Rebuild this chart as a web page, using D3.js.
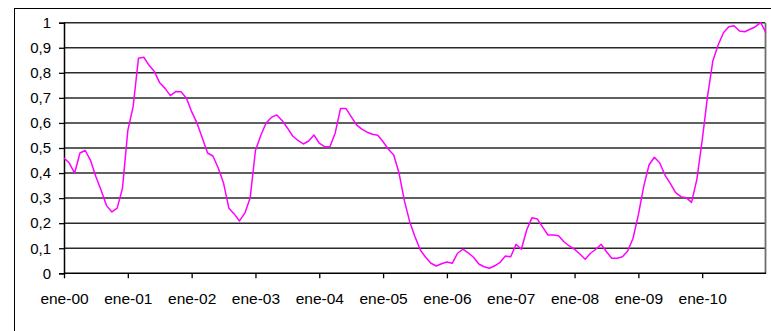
<!DOCTYPE html>
<html>
<head>
<meta charset="utf-8">
<script src="https://cdn.jsdelivr.net/npm/d3@7"></script>
<style>
  html, body { margin: 0; padding: 0; background: #fff; }
  svg { display: block; }
  text { font-family: "Liberation Sans", Arial, Helvetica, sans-serif; fill: #000; }
</style>
</head>
<body>
<svg id="chart" width="771" height="331"></svg>
<script>
// Monthly index values, ene-2000 .. ene-2011
const values = [
  0.46, 0.44, 0.40, 0.48, 0.49, 0.45, 0.385, 0.33, 0.27, 0.245, 0.26, 0.34,
  0.57, 0.665, 0.858, 0.862, 0.83, 0.805, 0.76, 0.738, 0.709, 0.725, 0.724, 0.70,
  0.645, 0.60, 0.54, 0.48, 0.468, 0.42, 0.36, 0.26, 0.237, 0.209, 0.24, 0.30,
  0.49, 0.55, 0.60, 0.622, 0.632, 0.61, 0.58, 0.548, 0.53, 0.516, 0.528, 0.552,
  0.519, 0.505, 0.505, 0.56, 0.658, 0.658, 0.625, 0.592, 0.575, 0.563, 0.555, 0.551,
  0.525, 0.495, 0.472, 0.40, 0.29, 0.206, 0.146, 0.093, 0.064, 0.04, 0.029, 0.038,
  0.045, 0.04, 0.08, 0.096, 0.082, 0.064, 0.037, 0.026, 0.02, 0.03, 0.044, 0.069,
  0.066, 0.116, 0.096, 0.173, 0.222, 0.217, 0.184, 0.153, 0.153, 0.15, 0.126, 0.109,
  0.096, 0.077, 0.056, 0.08, 0.096, 0.116, 0.086, 0.06, 0.06, 0.066, 0.089, 0.14,
  0.233, 0.346, 0.432, 0.463, 0.441, 0.392, 0.359, 0.322, 0.306, 0.302, 0.283, 0.375,
  0.53, 0.705, 0.847, 0.911, 0.96, 0.984, 0.988, 0.967, 0.964, 0.974, 0.984, 1.0,
  0.96
];

// Year tick labels (one per January)
const yearLabels = ["ene-00", "ene-01", "ene-02", "ene-03", "ene-04", "ene-05",
                    "ene-06", "ene-07", "ene-08", "ene-09", "ene-10"];
const yearTickMonths = yearLabels.map((_, k) => k * 12);

const yTicks = [0, 0.1, 0.2, 0.3, 0.4, 0.5, 0.6, 0.7, 0.8, 0.9, 1];
const fmtComma = v => String(+v.toFixed(1)).replace(".", ",");

const svg = d3.select("#chart");

const plot = { left: 64, right: 765, top: 22.7, bottom: 273.3 };

const x = d3.scaleLinear().domain([0, values.length - 1]).range([plot.left, 766]);
const y = d3.scaleLinear().domain([0, 1]).range([plot.bottom, plot.top]);

// Outer chart frame (extends past the visible edges)
svg.append("rect")
  .attr("x", 14.5).attr("y", 8.5)
  .attr("width", 800).attr("height", 400)
  .attr("fill", "none").attr("stroke", "#000").attr("stroke-width", 1);

// Horizontal gridlines
svg.append("g")
  .selectAll("line")
  .data(yTicks.filter(v => v > 0))
  .join("line")
  .attr("x1", plot.left).attr("x2", plot.right)
  .attr("y1", d => y(d)).attr("y2", d => y(d))
  .attr("stroke", "#2a2a2a").attr("stroke-width", 1.5);

// Right border of plot area
svg.append("line")
  .attr("x1", plot.right + 0.5).attr("x2", plot.right + 0.5)
  .attr("y1", plot.top).attr("y2", plot.bottom)
  .attr("stroke", "#6e6e6e").attr("stroke-width", 1.8);

// Y axis
const yAxis = d3.axisLeft(y)
  .tickValues(yTicks)
  .tickSize(5)
  .tickPadding(8)
  .tickFormat(fmtComma);

const gy = svg.append("g")
  .attr("transform", `translate(${plot.left},0)`)
  .call(yAxis);
gy.select(".domain").attr("stroke", "#000").attr("stroke-width", 1.5);
gy.selectAll(".tick line").attr("stroke", "#000").attr("stroke-width", 1.3);
gy.selectAll(".tick text")
  .attr("font-size", 15)
  .attr("font-family", "'Liberation Sans', Arial, sans-serif")
  .attr("fill", "#000");

// X axis
const xAxis = d3.axisBottom(x)
  .tickValues(yearTickMonths)
  .tickSize(5)
  .tickPadding(15)
  .tickSizeOuter(0)
  .tickFormat((d, k) => yearLabels[k]);

const gx = svg.append("g")
  .attr("transform", `translate(0,${plot.bottom})`)
  .call(xAxis);
gx.select(".domain").attr("stroke", "#000").attr("stroke-width", 1.5)
  .attr("d", `M${plot.left},0H${plot.right + 1}`);
gx.selectAll(".tick line").attr("stroke", "#000").attr("stroke-width", 1.3);
gx.selectAll(".tick text")
  .attr("font-size", 15.5)
  .attr("font-family", "'Liberation Sans', Arial, sans-serif")
  .attr("fill", "#000");

// Series line
const line = d3.line()
  .x((d, i) => x(i))
  .y(d => y(d));

svg.append("path")
  .datum(values)
  .attr("d", line)
  .attr("fill", "none")
  .attr("stroke", "#ff00ff")
  .attr("stroke-width", 1.5)
  .attr("stroke-linejoin", "round");
</script>
</body>
</html>
